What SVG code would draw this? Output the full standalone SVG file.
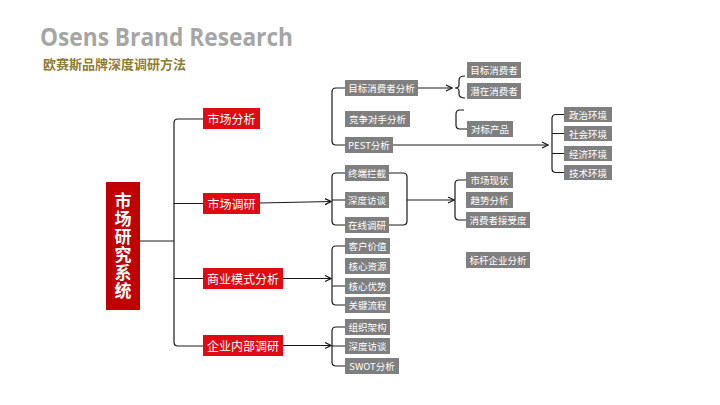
<svg xmlns="http://www.w3.org/2000/svg" width="720" height="405" viewBox="0 0 720 405">
<defs>
<marker id="arr" viewBox="0 0 8 8" refX="7" refY="4" markerWidth="8" markerHeight="8" markerUnits="userSpaceOnUse" orient="auto">
<path d="M1 1 L7 4 L1 7" fill="none" stroke="#1a1a1a" stroke-width="1.2"/>
</marker>
<style>
.g rect{fill:#7f7f7f}
.r rect{fill:#e00a12}
text{font-family:"Noto Sans CJK SC","Microsoft YaHei",sans-serif;fill:#fff;text-anchor:middle;dominant-baseline:central}
.g text{font-size:9.5px}
.r text{font-size:12px}
.ln{fill:none;stroke:#1a1a1a;stroke-width:1.2}
</style>
</defs>
<rect width="720" height="405" fill="#fff"/>
<text x="40" y="46" textLength="253" lengthAdjust="spacingAndGlyphs" style="font-family:'Open Sans','DejaVu Sans',sans-serif;font-weight:bold;font-size:25px;fill:#a6a6a6;text-anchor:start;dominant-baseline:alphabetic">Osens Brand Research</text>
<text x="43" y="63.5" style="font-size:13px;font-weight:bold;fill:#8e7d36;text-anchor:start">欧赛斯品牌深度调研方法</text>

<g id="connectors" class="ln">
<path d="M140 241 H174"/>
<path d="M203 119 H178 Q174 119 174 123 V342 Q174 346 178 346 H203"/>
<path d="M174 203.5 H203 M174 278.5 H203"/>
<path d="M345 88 H336 Q332 88 332 92 V141 Q332 145 336 145 H345"/>
<path d="M418 88 H452" marker-end="url(#arr)"/>
<path d="M465 76 Q459 76 459 80 V85 Q459 88 455 88 Q459 88 459 91 V94 Q459 98 465 98"/>
<path d="M464 110 H460 Q456 110 456 114 V125 Q456 129 460 129 H467"/>
<path d="M393 145 H548" marker-end="url(#arr)"/>
<path d="M564 114.5 H556 Q552 114.5 552 118.5 V168.5 Q552 172.5 556 172.5 H564 M552 133.5 H564 M552 153.5 H564"/>
<path d="M260 203 L331 201.5" marker-end="url(#arr)"/>
<path d="M345 173 H336 Q332 173 332 177 V221 Q332 225 336 225 H345 M332 200 H345"/>
<path d="M389 173 H403 Q407 173 407 177 V221 Q407 225 403 225 H389"/>
<path d="M407 200 H454" marker-end="url(#arr)"/>
<path d="M466 180 H459 Q455 180 455 184 V216 Q455 220 459 220 H466"/>
<path d="M283 278.5 H331" marker-end="url(#arr)"/>
<path d="M345 246 H336 Q332 246 332 250 V301 Q332 305 336 305 H345 M332 286 H345"/>
<path d="M283 345.5 H331" marker-end="url(#arr)"/>
<path d="M345 327 H336 Q332 327 332 331 V362 Q332 366 336 366 H345 M332 346 H345"/>
</g>

<g id="main">
<rect x="106" y="182" width="34" height="128" fill="#c00000"/>
<text x="123" y="246.5" writing-mode="vertical-rl" style="font-size:17px;font-weight:bold;letter-spacing:1px">市场研究系统</text>
</g>

<g id="n-scfx" class="r"><rect x="203" y="108" width="57" height="21"/><text x="231.5" y="118.5">市场分析</text></g>
<g id="n-scdy" class="r"><rect x="203" y="193" width="57" height="21"/><text x="231.5" y="203.5">市场调研</text></g>
<g id="n-syms" class="r"><rect x="203" y="268" width="80" height="21"/><text x="243" y="278.5">商业模式分析</text></g>
<g id="n-qynb" class="r"><rect x="203" y="335" width="80" height="21"/><text x="243" y="345.5">企业内部调研</text></g>

<g id="n-mbxfzfx" class="g"><rect x="345" y="80" width="73" height="16"/><text x="381.5" y="88">目标消费者分析</text></g>
<g id="n-jzds" class="g"><rect x="345" y="111" width="65" height="16"/><text x="377.5" y="119">竞争对手分析</text></g>
<g id="n-pest" class="g"><rect x="345" y="137" width="48" height="16"/><text x="369" y="145">PEST分析</text></g>
<g id="n-mbxfz" class="g"><rect x="467" y="62" width="54" height="16"/><text x="494" y="70">目标消费者</text></g>
<g id="n-qzxfz" class="g"><rect x="467" y="83" width="54" height="16"/><text x="494" y="91">潜在消费者</text></g>
<g id="n-dbcp" class="g"><rect x="467" y="121" width="46" height="16"/><text x="490" y="129">对标产品</text></g>
<g id="n-zz" class="g"><rect x="564" y="107" width="48" height="15"/><text x="588" y="114.5">政治环境</text></g>
<g id="n-sh" class="g"><rect x="564" y="126" width="48" height="15"/><text x="588" y="133.5">社会环境</text></g>
<g id="n-jj" class="g"><rect x="564" y="146" width="48" height="15"/><text x="588" y="153.5">经济环境</text></g>
<g id="n-js" class="g"><rect x="564" y="165" width="48" height="15"/><text x="588" y="172.5">技术环境</text></g>
<g id="n-zdlj" class="g"><rect x="345" y="165" width="44" height="16"/><text x="367" y="173">终端拦截</text></g>
<g id="n-sdft1" class="g"><rect x="345" y="192" width="44" height="16"/><text x="367" y="200">深度访谈</text></g>
<g id="n-zxdy" class="g"><rect x="345" y="217" width="44" height="16"/><text x="367" y="225">在线调研</text></g>
<g id="n-scxz" class="g"><rect x="466" y="172" width="47" height="16"/><text x="489.5" y="180">市场现状</text></g>
<g id="n-qsfx" class="g"><rect x="466" y="192" width="47" height="16"/><text x="489.5" y="200">趋势分析</text></g>
<g id="n-xfzjsd" class="g"><rect x="466" y="212" width="64" height="16"/><text x="498" y="220">消费者接受度</text></g>
<g id="n-bgqy" class="g"><rect x="466" y="252" width="64" height="16"/><text x="498" y="260">标杆企业分析</text></g>
<g id="n-khjz" class="g"><rect x="345" y="238" width="45" height="16"/><text x="367.5" y="246">客户价值</text></g>
<g id="n-hxzy" class="g"><rect x="345" y="258" width="45" height="16"/><text x="367.5" y="266">核心资源</text></g>
<g id="n-hxys" class="g"><rect x="345" y="278" width="45" height="16"/><text x="367.5" y="286">核心优势</text></g>
<g id="n-gjlc" class="g"><rect x="345" y="297" width="45" height="16"/><text x="367.5" y="305">关键流程</text></g>
<g id="n-zzjg" class="g"><rect x="345" y="319" width="45" height="16"/><text x="367.5" y="327">组织架构</text></g>
<g id="n-sdft2" class="g"><rect x="345" y="338" width="45" height="16"/><text x="367.5" y="346">深度访谈</text></g>
<g id="n-swot" class="g"><rect x="345" y="358" width="54" height="16"/><text x="372" y="366">SWOT分析</text></g>
</svg>
